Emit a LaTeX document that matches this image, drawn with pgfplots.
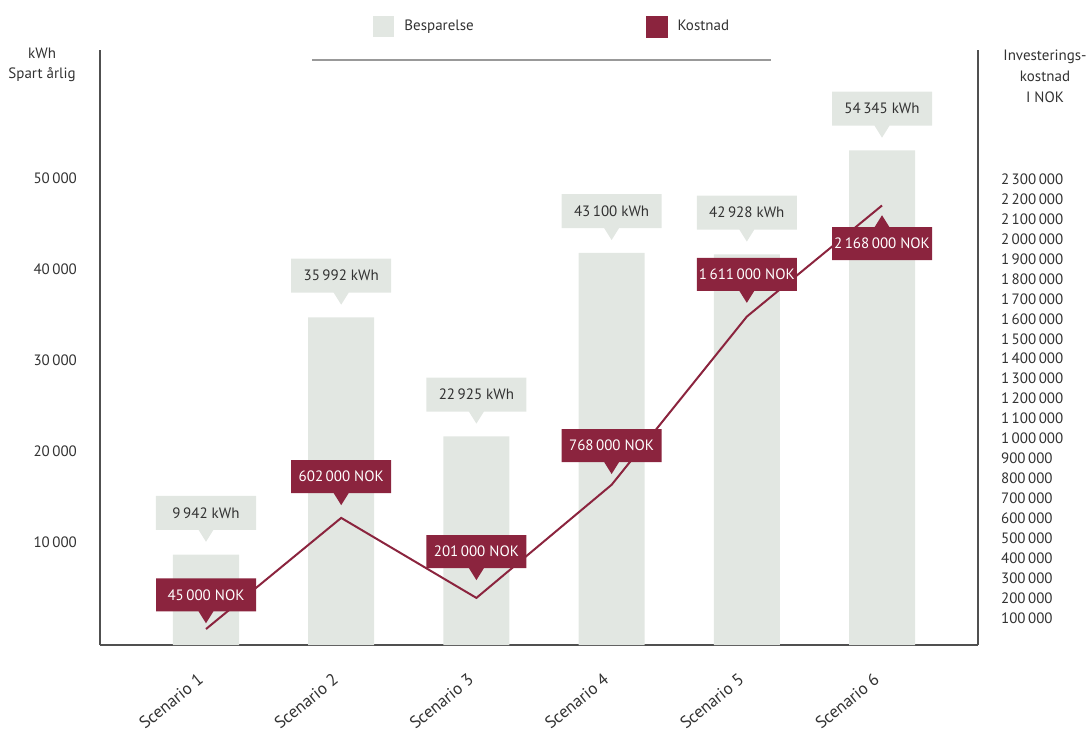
\documentclass[border=0pt]{standalone}
\usepackage{pgfplots}
\pgfplotsset{compat=1.18}
\usepackage{pgfplotstable}
\usepackage{fontspec}
\setmainfont{PT Sans}
\usetikzlibrary{shapes.callouts}
\definecolor{lightgr}{RGB}{226,231,226}
\definecolor{maroon}{RGB}{139,36,62}
\definecolor{txt}{RGB}{50,50,50}
\definecolor{axisgray}{RGB}{80,80,80}

\pgfplotstableread{
x y
0 9942
1 35992
2 22925
3 43100
4 42928
5 54345
}\kwh
% g = gap (pt) between callout pointer tip and the point
\pgfplotstableread{
x y g
0 45000 2.5
1 602000 6
2 201000 8.5
3 768000 5
4 1611000 6.5
5 2168000 4.5
}\nok

\tikzset{
  kwhcall/.style={shape=rectangle callout, fill=lightgr, text=txt,
    minimum width=50pt, minimum height=17pt, inner sep=0pt,
    callout relative pointer={(0pt,-6pt)}, callout pointer width=7.5pt,
    anchor=pointer, yshift=6pt, font=\fontsize{7.5}{9}\selectfont},
  nokcall/.style={shape=rectangle callout, fill=maroon, text=white,
    minimum width=50pt, minimum height=16.5pt, inner sep=0pt,
    callout pointer width=7.5pt, anchor=pointer, font=\fontsize{7.5}{9}\selectfont},
}
\pgfplotsset{
  /pgf/number format/.cd, fixed, precision=0, 1000 sep={\,}, assume math mode=true,
  /pgfplots/.cd,
  base/.style={
    at={(50pt,42pt)}, anchor=south west, scale only axis,
    width=439pt, height=297.5pt,
    xmin=-0.784, xmax=5.710,
    major tick length=0pt, tick style={draw=none},
    ticklabel style={text=txt, font=\fontsize{7.5}{10}\selectfont},
    scaled y ticks=false,
    clip=false,
  },
  noarrow/.style={axis line style={axisgray, line width=1pt, -},
    x axis line style={-}, y axis line style={-}},
}

\begin{document}
\begin{tikzpicture}
\useasboundingbox (0,0) rectangle (543pt,364.5pt);
\begin{axis}[base,
  axis x line=bottom, axis y line=left, noarrow,
  ymin=0, ymax=65385,
  ytick={10000,20000,30000,40000,50000},
  yticklabel style={xshift=-8pt, yshift=6pt},
  xtick={0,1,2,3,4,5},
  xticklabels={Scenario 1,Scenario 2,Scenario 3,Scenario 4,Scenario 5,Scenario 6},
  xticklabel style={yshift=-14pt, rotate=39, anchor=east, font=\fontsize{8.5}{10}\selectfont},
  ylabel={kWh\\Spart årlig},
  ylabel style={at={(axis description cs:-0.066,0.975)}, rotate=-90, anchor=center,
    align=center, text=txt, font=\fontsize{7.5}{10}\selectfont},
  legend columns=2,
  legend style={at={(axis description cs:0.311,1.0395)}, anchor=west,
    draw=none, fill=none, inner sep=0pt, text=txt,
    font=\fontsize{7.5}{9}\selectfont,
    /tikz/every odd column/.append style={column sep=3pt},
    /tikz/every even column/.append style={column sep=84pt}},
]
\addplot[ybar, bar width=33pt, fill=lightgr, draw=none,
  point meta=y,
  nodes near coords={\pgfmathprintnumber{\pgfplotspointmeta}~kWh},
  nodes near coords style={kwhcall},
  legend image code/.code={\fill[lightgr] (0pt,-5.25pt) rectangle (10.5pt,5.25pt);}]
  table[x=x,y=y] {\kwh};
\addlegendentry{Besparelse}
\addlegendimage{legend image code/.code={\fill[maroon] (0pt,-5.25pt) rectangle (10.5pt,5.25pt);}}
\addlegendentry{Kostnad}
\draw[gray!80, line width=0.75pt] (axis description cs:0.2415,0.9832) -- (axis description cs:0.7642,0.9832);
\end{axis}

\begin{axis}[base,
  axis x line=none, axis y line=right, noarrow,
  ymin=-35088, ymax=2947368,
  ytick={100000,200000,300000,400000,500000,600000,700000,800000,900000,1000000,1100000,1200000,1300000,1400000,1500000,1600000,1700000,1800000,1900000,2000000,2100000,2200000,2300000},
  yticklabel style={xshift=8pt},
  ylabel={Investerings-\\kostnad\\I NOK},
  ylabel style={at={(axis description cs:1.0763,0.956)}, rotate=-90, anchor=center,
    align=center, text=txt, font=\fontsize{7.5}{10.5}\selectfont},
]
\addplot[maroon, line width=1pt, mark=none] table[x=x,y=y] {\nok};
\addplot[draw=none, mark=none, point meta=y,
  skip coords between index={5}{6},
  visualization depends on={\thisrow{g} \as \gap},
  nodes near coords={\pgfmathprintnumber{\pgfplotspointmeta}~NOK},
  nodes near coords style={nokcall, callout relative pointer={(0pt,-6pt)}, yshift=\gap pt}]
  table[x=x,y=y] {\nok};
\addplot[draw=none, mark=none, point meta=y,
  skip coords between index={0}{5},
  visualization depends on={\thisrow{g} \as \gap},
  nodes near coords={\pgfmathprintnumber{\pgfplotspointmeta}~NOK},
  nodes near coords style={nokcall, callout relative pointer={(0pt,6pt)}, yshift=-\gap pt}]
  table[x=x,y=y] {\nok};
\end{axis}
\end{tikzpicture}
\end{document}
